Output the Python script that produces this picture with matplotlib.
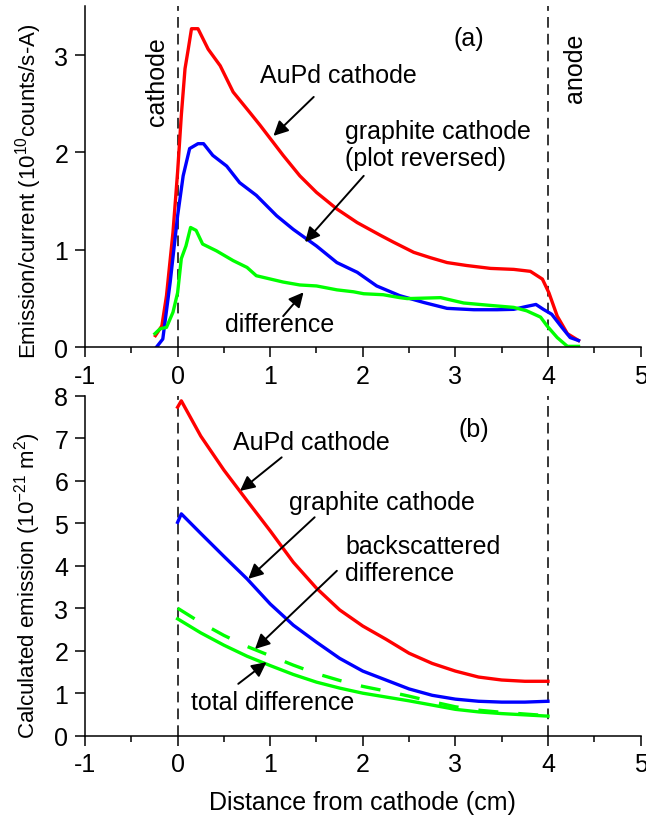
import numpy as np
import matplotlib
matplotlib.use('Agg')
import matplotlib.pyplot as plt

plt.rcParams['font.family'] = ['Liberation Sans', 'DejaVu Sans']
plt.rcParams['mathtext.default'] = 'regular'
plt.rcParams['axes.unicode_minus'] = False
plt.rcParams['font.size'] = 18

# (a) measured emission / current
red_a_x = [-0.24, -0.17, -0.12, -0.05, 0.0, 0.04, 0.08, 0.115, 0.15, 0.22, 0.33, 0.46, 0.60, 0.78, 0.89,
           1.14, 1.32, 1.50, 1.72, 1.94, 2.19, 2.33, 2.55, 2.73, 2.91, 3.12, 3.38, 3.63, 3.81, 3.94,
           4.01, 4.10, 4.21, 4.33]
red_a_y = [0.12, 0.22, 0.53, 1.18, 1.80, 2.38, 2.86, 3.06, 3.27, 3.27, 3.06, 2.89, 2.62, 2.41, 2.28,
           1.97, 1.76, 1.59, 1.42, 1.28, 1.15, 1.08, 0.975, 0.92, 0.87, 0.84, 0.81, 0.80, 0.78, 0.70,
           0.56, 0.32, 0.14, 0.07]
blue_a_x = [-0.23, -0.16, -0.08, 0.0, 0.06, 0.13, 0.22, 0.28, 0.38, 0.53, 0.67, 0.85, 1.07, 1.25, 1.50,
            1.72, 1.94, 2.15, 2.40, 2.66, 2.91, 3.20, 3.45, 3.63, 3.77, 3.87, 3.95, 4.04, 4.15, 4.24, 4.33]
blue_a_y = [0.0, 0.085, 0.67, 1.35, 1.76, 2.04, 2.09, 2.09, 1.97, 1.86, 1.69, 1.56, 1.35, 1.21, 1.04,
            0.87, 0.77, 0.63, 0.53, 0.46, 0.40, 0.386, 0.386, 0.39, 0.42, 0.44, 0.39, 0.34, 0.205, 0.10, 0.07]
green_a_x = [-0.245, -0.19, -0.12, -0.05, 0.0, 0.04, 0.09, 0.14, 0.20, 0.27, 0.42, 0.60, 0.75, 0.85, 1.14,
             1.32, 1.50, 1.72, 1.90, 2.01, 2.22, 2.40, 2.48, 2.84, 3.09, 3.38, 3.63, 3.77, 3.92, 3.99,
             4.10, 4.21, 4.33]
green_a_y = [0.14, 0.19, 0.205, 0.36, 0.56, 0.91, 1.04, 1.23, 1.20, 1.06, 0.99, 0.89, 0.82, 0.735, 0.67,
             0.64, 0.63, 0.59, 0.57, 0.55, 0.54, 0.51, 0.50, 0.51, 0.455, 0.43, 0.41, 0.375, 0.31, 0.22,
             0.10, 0.01, 0.01]

# (b) calculated emission
x_b = [0.0, 0.04, 0.25, 0.5, 0.75, 1.0, 1.25, 1.5, 1.75, 2.0, 2.25, 2.5, 2.75, 3.0, 3.25, 3.5, 3.75, 4.0]
red_b = [7.73, 7.88, 7.05, 6.25, 5.53, 4.82, 4.08, 3.47, 2.96, 2.58, 2.27, 1.94, 1.70, 1.52, 1.38, 1.31, 1.28, 1.28]
blue_b = [5.02, 5.22, 4.76, 4.22, 3.69, 3.10, 2.60, 2.20, 1.82, 1.52, 1.31, 1.10, 0.95, 0.86, 0.81, 0.79, 0.79, 0.81]
x_g = [0.0, 0.25, 0.5, 0.75, 1.0, 1.25, 1.5, 1.75, 2.0, 2.25, 2.5, 2.75, 3.0, 3.25, 3.5, 3.75, 4.0]
total_diff = [2.75, 2.42, 2.13, 1.87, 1.65, 1.44, 1.26, 1.12, 1.00, 0.91, 0.82, 0.72, 0.62, 0.56, 0.52, 0.49, 0.46]
back_diff = [3.00, 2.66, 2.36, 2.10, 1.88, 1.66, 1.46, 1.30, 1.16, 1.05, 0.93, 0.80, 0.68, 0.60, 0.55, 0.51, 0.47]

fig = plt.figure(figsize=(6.46, 8.2), dpi=100)
ax1 = fig.add_axes([0.1316, 0.5752, 0.86, 0.4159])
ax2 = fig.add_axes([0.1316, 0.1016, 0.86, 0.4146])

lw = 2.4
arr = dict(arrowstyle='-|>', color='k', lw=1.4, mutation_scale=22, shrinkA=0, shrinkB=0)

#top panel
ax1.plot(red_a_x, red_a_y, color='#ff0000', lw=lw)
ax1.plot(blue_a_x, blue_a_y, color='#0000ff', lw=lw)
ax1.plot(green_a_x, green_a_y, color='#00ff00', lw=lw)
ax1.set_ylim(0, 3.5)
ax1.set_yticks([0, 1, 2, 3])
ax1.set_ylabel('Emission/current (10$^{10}$counts/s-A)', fontsize=16)
ax1.yaxis.set_label_coords(-0.073, 0.46)
ax1.text(-0.22, 2.74, 'cathode', rotation=90, ha='center', va='center')
ax1.text(4.29, 2.87, 'anode', rotation=90, ha='center', va='center')
ax1.text(3.14, 3.17, '(a)', ha='center', va='center')
ax1.text(1.74, 2.79, 'AuPd cathode', ha='center', va='center')
ax1.annotate('', xy=(1.035, 2.17), xytext=(1.47, 2.57), arrowprops=arr)
ax1.text(1.81, 2.08, 'graphite cathode\n(plot reversed)', ha='left', va='center', linespacing=1.15)
ax1.annotate('', xy=(1.376, 1.08), xytext=(2.01, 1.76), arrowprops=arr)
ax1.text(1.106, 0.24, 'difference', ha='center', va='center')
ax1.annotate('', xy=(1.36, 0.565), xytext=(1.14, 0.32), arrowprops=arr)

#bottom panel
ax2.plot(x_b, red_b, color='#ff0000', lw=lw)
ax2.plot(x_b, blue_b, color='#0000ff', lw=lw)
ax2.plot(x_g, total_diff, color='#00ff00', lw=lw)
ax2.plot(x_g, back_diff, color='#00ff00', lw=lw, linestyle=(0, (6, 6)))
ax2.set_ylim(0, 8)
ax2.set_yticks(range(0, 9))
ax2.set_ylabel('Calculated emission (10$^{-21}$ m$^{2}$)', fontsize=16)
ax2.yaxis.set_label_coords(-0.075, 0.445)
ax2.set_xlabel('Distance from cathode (cm)', labelpad=10)
ax2.text(3.20, 7.21, '(b)', ha='center', va='center')
ax2.text(1.44, 6.90, 'AuPd cathode', ha='center', va='center')
ax2.annotate('', xy=(0.674, 5.76), xytext=(1.124, 6.55), arrowprops=arr)
ax2.text(2.21, 5.49, 'graphite cathode', ha='center', va='center')
ax2.annotate('', xy=(0.763, 3.69), xytext=(1.48, 5.14), arrowprops=arr)
ax2.text(1.81, 4.14, 'backscattered\ndifference', ha='left', va='center', linespacing=1.15)
ax2.annotate('', xy=(0.836, 2.04), xytext=(1.72, 3.88), arrowprops=arr)
ax2.text(1.03, 0.79, 'total difference', ha='center', va='center')
ax2.annotate('', xy=(0.96, 1.73), xytext=(0.655, 1.22), arrowprops=arr)

for ax in (ax1, ax2):
    ax.axvline(0, color='k', lw=1.1, linestyle=(0, (7, 4)), zorder=0)
    ax.axvline(4, color='k', lw=1.1, linestyle=(0, (7, 4)), zorder=0)
    ax.set_xlim(-1, 5)
    ax.set_xticks(range(-1, 6))
    ax.set_xticks(np.arange(-0.5, 5, 1.0), minor=True)
    ax.spines['top'].set_visible(False)
    ax.spines['right'].set_visible(False)
    ax.spines['left'].set_linewidth(1.1)
    ax.spines['bottom'].set_linewidth(1.1)
    ax.tick_params(which='major', direction='out', length=7, width=1.1, pad=5)
    ax.tick_params(which='minor', direction='out', length=4, width=1.1)

fig.savefig('out.png', dpi=100)
